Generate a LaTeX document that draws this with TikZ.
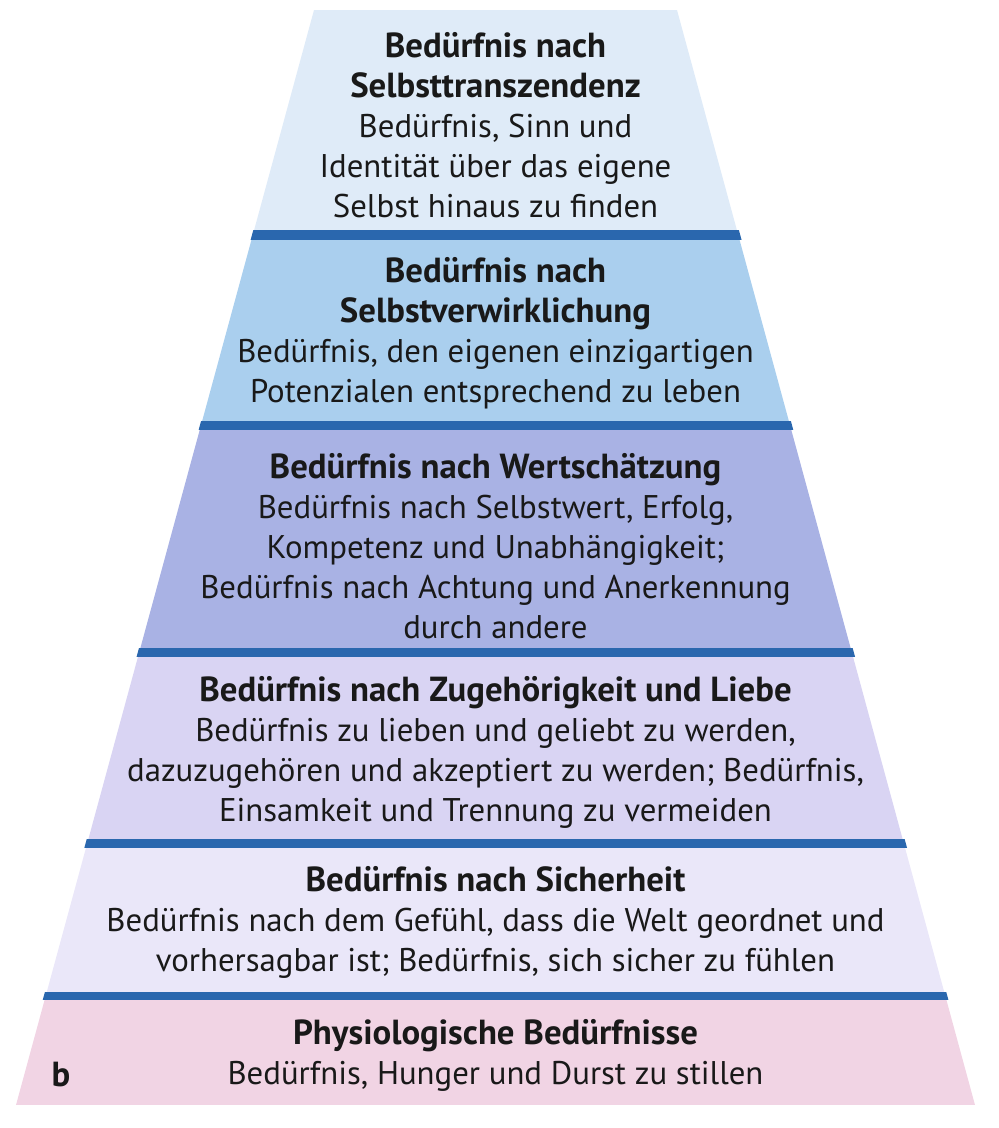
\documentclass[tikz,border=0pt]{standalone}
\usepackage{fontspec}
\setmainfont{PT Sans}
\definecolor{tierA}{HTML}{DFEBF8}
\definecolor{tierB}{HTML}{AACFEE}
\definecolor{tierC}{HTML}{A9B2E4}
\definecolor{tierD}{HTML}{D9D4F3}
\definecolor{tierE}{HTML}{EAE7F9}
\definecolor{tierF}{HTML}{F1D4E4}
\definecolor{barblue}{HTML}{2A67AE}
\newcommand{\tierhead}[1]{{\fontsize{17.4}{20}\selectfont\bfseries #1}}
\begin{document}
\begin{tikzpicture}[x=0.5pt,y=-0.5pt]
    \tikzset{band/.style = {draw=none}, sep/.style = {fill=barblue,draw=none}, label/.style = {align=center,inner sep=0pt,font=\fontsize{16.4}{20}\selectfont,text=black!90}}
    \def\top{10}
    \def\bot{1105}
    \useasboundingbox (0,0) rectangle (999,1128);
    \begin{scope}
    \clip (314,\top) -- (677,\top) -- (975,\bot) -- (16,\bot) -- cycle;
    \fill[band,tierA] (0,\top) rectangle (999,230);
    \fill[band,tierB] (0,240) rectangle (999,421);
    \fill[band,tierC] (0,430) rectangle (999,648);
    \fill[band,tierD] (0,657) rectangle (999,839);
    \fill[band,tierE] (0,848) rectangle (999,992);
    \fill[band,tierF] (0,1000) rectangle (999,\bot);
    \end{scope}
    \begin{scope}
    \clip (313.5,\top) -- (679,\top) -- (977,\bot) -- (14,\bot) -- cycle;
    \fill[sep] (0,230) rectangle (999,240);
    \fill[sep] (0,421) rectangle (999,430);
    \fill[sep] (0,648) rectangle (999,657);
    \fill[sep] (0,839) rectangle (999,848);
    \fill[sep] (0,992) rectangle (999,1000);
    \end{scope}
    \node[label] (trans) at (495.5,125) {\tierhead{Bedürfnis nach}\\\tierhead{Selbsttranszendenz}\\Bedürfnis, Sinn und\\Identität über das eigene\\Selbst hinaus zu finden};
    \node[label] (selbst) at (495.5,333) {\tierhead{Bedürfnis nach}\\\tierhead{Selbstverwirklichung}\\Bedürfnis, den eigenen einzigartigen\\Potenzialen entsprechend zu leben};
    \node[label] (wert) at (495.5,546) {\tierhead{Bedürfnis nach Wertschätzung}\\Bedürfnis nach Selbstwert, Erfolg,\\Kompetenz und Unabhängigkeit;\\Bedürfnis nach Achtung und Anerkennung\\durch andere};
    \node[label] (liebe) at (495.5,752) {\tierhead{Bedürfnis nach Zugehörigkeit und Liebe}\\Bedürfnis zu lieben und geliebt zu werden,\\dazuzugehören und akzeptiert zu werden; Bedürfnis,\\Einsamkeit und Trennung zu vermeiden};
    \node[label] (sicher) at (495.5,922) {\tierhead{Bedürfnis nach Sicherheit}\\Bedürfnis nach dem Gefühl, dass die Welt geordnet und\\vorhersagbar ist; Bedürfnis, sich sicher zu fühlen};
    \node[label] (phys) at (495.5,1055) {\tierhead{Physiologische Bedürfnisse}\\Bedürfnis, Hunger und Durst zu stillen};
    \node[label,font=\fontsize{17.4}{20}\selectfont\bfseries] (b) at (61,1075) {b};
\end{tikzpicture}
\end{document}
